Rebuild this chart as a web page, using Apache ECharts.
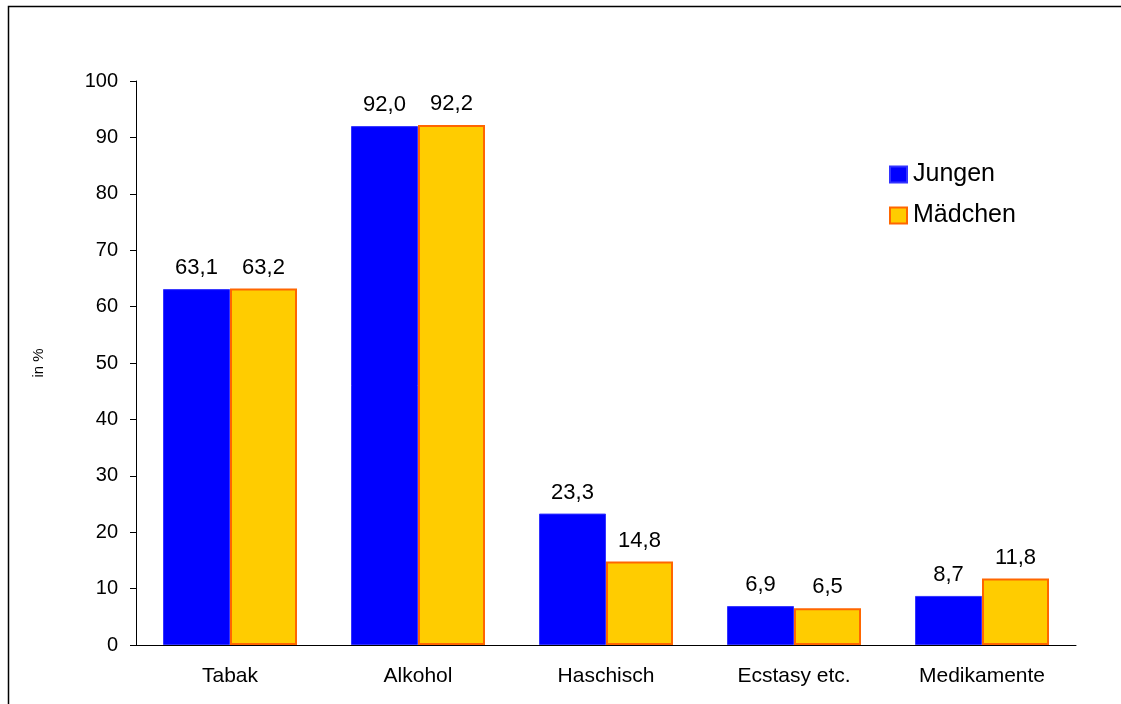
<!DOCTYPE html>
<html>
<head>
<meta charset="utf-8">
<script src="https://cdn.jsdelivr.net/npm/echarts@6/dist/echarts.min.js"></script>
<style>
html,body{margin:0;padding:0;background:#fff;}
#chart{width:1121px;height:704px;}
</style>
</head>
<body>
<div id="chart"></div>
<script>
const categories = ['Tabak', 'Alkohol', 'Haschisch', 'Ecstasy etc.', 'Medikamente'];
const jungen = [63.1, 92.0, 23.3, 6.9, 8.7];
const maedchen = [63.2, 92.2, 14.8, 6.5, 11.8];
const seriesNames = ['Jungen', 'Mädchen'];
const axisName = 'in %';

const font = 'Arial, "Liberation Sans", sans-serif';
const chart = echarts.init(document.getElementById('chart'));
const fmt = p => p.value.toFixed(1).replace('.', ',');
chart.setOption({
  animation: false,
  textStyle: { fontFamily: font, color: '#000' },
  graphic: [{
    type: 'rect',
    shape: { x: 8.5, y: 6.5, width: 1200, height: 800 },
    style: { fill: 'none', stroke: '#000', lineWidth: 1.5 },
    silent: true, z: -1
  }],
  grid: { left: 136, right: 45, top: 81, bottom: 59 },
  legend: {
    orient: 'vertical', left: 889, top: 162, padding: 0,
    icon: 'rect',
    itemWidth: 17, itemHeight: 16, itemGap: 16,
    textStyle: { fontFamily: font, fontSize: 25, color: '#000', padding: [0, 0, 0, 1] },
    data: seriesNames
  },
  xAxis: {
    type: 'category', data: categories,
    axisLine: { lineStyle: { color: '#000', width: 1 } },
    axisTick: { length: 6, lineStyle: { color: '#000' } },
    axisLabel: { fontFamily: font, fontSize: 21, color: '#000', margin: 21 }
  },
  yAxis: {
    type: 'value', min: 0, max: 100, interval: 10,
    name: axisName, nameLocation: 'middle', nameRotate: 90, nameGap: 90,
    nameTextStyle: { fontFamily: font, fontSize: 15, color: '#000' },
    splitLine: { show: false },
    axisLine: { show: true, lineStyle: { color: '#000', width: 1 } },
    axisTick: { show: true, length: 6, lineStyle: { color: '#000' } },
    axisLabel: { fontFamily: font, fontSize: 20, color: '#000', margin: 18 }
  },
  series: [{
    name: seriesNames[0], type: 'bar', data: jungen,
    barWidth: 67, barGap: '0%',
    itemStyle: { color: '#0000FF', borderColor: '#3333FF', borderWidth: 1 },
    label: { show: true, position: 'top', distance: 10, fontFamily: font, fontSize: 22, color: '#000', formatter: fmt }
  }, {
    name: seriesNames[1], type: 'bar', data: maedchen,
    barWidth: 67, barGap: '0%',
    itemStyle: { color: '#FFCC00', borderColor: '#FF6600', borderWidth: 2 },
    label: { show: true, position: 'top', distance: 10, fontFamily: font, fontSize: 22, color: '#000', formatter: fmt }
  }]
});
</script>
</body>
</html>
